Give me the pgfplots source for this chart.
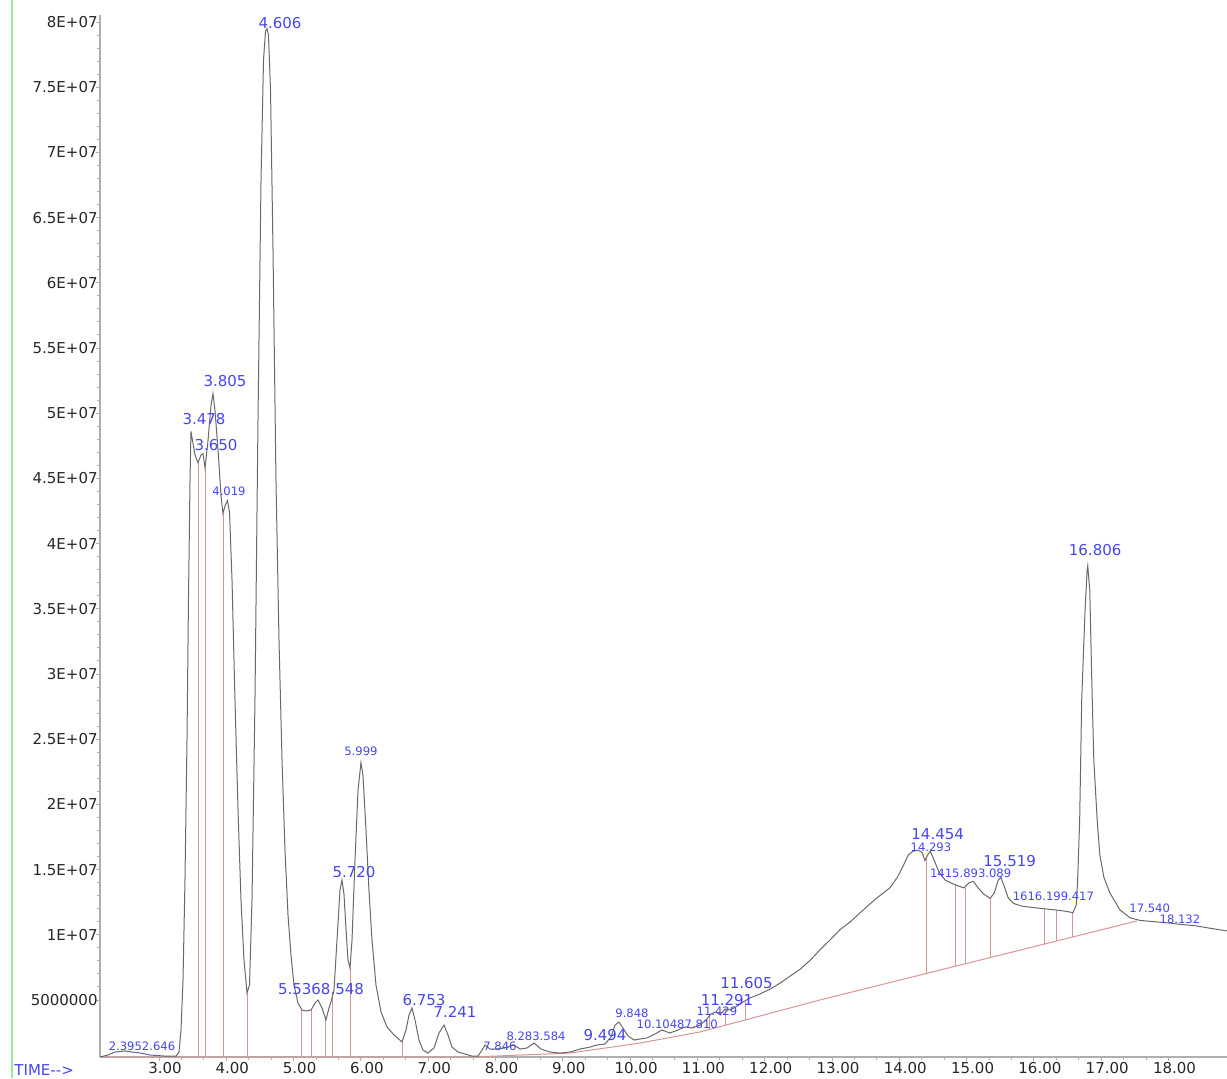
\documentclass[border=0pt]{standalone}
\usepackage{pgfplots}
\usepackage{pgfplotstable}
\pgfplotsset{compat=1.18}
\usepackage{fontspec}
\setmainfont{DejaVu Sans}
\definecolor{pkblue}{RGB}{70,70,240}
\definecolor{intred}{RGB}{215,150,150}
\definecolor{curvegray}{RGB}{105,105,105}
\definecolor{axgray}{RGB}{175,175,175}
\definecolor{lgreen}{RGB}{150,235,150}
\newcommand{\Lf}{\fontsize{7.5}{8}\selectfont}
\newcommand{\Sf}{\fontsize{5.8}{6.5}\selectfont}

\pgfplotstableread{
t I
2.123 0.63
2.242 0.78
2.346 1.01
2.495 1.09
2.599 1.01
2.718 0.94
2.866 0.78
3.089 0.70
3.253 0.70
3.297 1.01
3.327 2.70
3.357 6.53
3.386 14.2
3.416 24.9
3.438 35.7
3.461 44.9
3.475 48.6
3.498 47.9
3.535 46.8
3.580 46.2
3.624 46.8
3.654 46.9
3.684 45.8
3.728 47.9
3.773 50.6
3.802 51.5
3.832 50.2
3.877 47.2
3.921 43.7
3.951 42.3
3.981 42.9
4.018 43.3
4.048 42.4
4.085 37.2
4.129 28.0
4.174 19.6
4.218 12.7
4.263 8.07
4.308 5.54
4.345 6.15
4.382 12.7
4.426 28.0
4.471 49.5
4.516 67.9
4.553 77.1
4.583 79.3
4.605 79.5
4.627 79.0
4.657 74.8
4.694 62.5
4.738 44.9
4.783 32.6
4.828 23.4
4.872 16.5
4.917 11.5
4.961 8.45
5.006 6.15
5.065 4.77
5.125 4.23
5.184 4.16
5.259 4.23
5.318 4.77
5.363 5.00
5.422 4.39
5.481 3.47
5.526 4.39
5.556 4.85
5.600 5.77
5.645 9.60
5.689 13.4
5.719 14.2
5.749 13.1
5.779 10.4
5.808 8.07
5.838 7.45
5.868 9.60
5.912 15.7
5.957 21.1
6.001 23.2
6.031 22.2
6.076 18.0
6.120 13.4
6.165 9.60
6.224 6.15
6.299 4.08
6.388 2.93
6.492 2.32
6.611 1.78
6.670 2.70
6.715 3.85
6.759 4.39
6.804 3.47
6.863 1.93
6.923 1.16
6.997 0.93
7.086 1.32
7.160 2.47
7.235 3.08
7.294 2.32
7.354 1.39
7.443 1.01
7.547 0.86
7.651 0.70
7.740 0.70
7.799 1.16
7.844 1.55
7.918 1.24
8.007 1.24
8.141 1.32
8.275 1.55
8.364 1.24
8.468 1.32
8.572 1.70
8.676 1.24
8.810 1.01
8.958 0.93
9.107 1.01
9.256 1.24
9.404 1.39
9.508 1.55
9.627 1.62
9.716 2.16
9.776 3.08
9.835 3.31
9.894 2.85
9.969 2.24
10.059 1.93
10.147 2.01
10.25 2.09
10.37 2.39
10.47 2.70
10.59 2.47
10.71 2.70
10.82 2.93
10.92 2.85
11.04 3.08
11.13 3.47
11.20 3.93
11.28 4.08
11.34 3.85
11.41 4.31
11.49 4.23
11.59 4.54
11.68 4.85
11.78 5.15
11.93 5.46
12.08 5.84
12.23 6.30
12.38 6.84
12.53 7.37
12.68 8.07
12.82 8.84
12.97 9.60
13.12 10.4
13.27 10.99
13.42 11.7
13.57 12.4
13.71 13.0
13.86 13.6
13.97 14.4
14.05 15.2
14.13 16.1
14.20 16.4
14.28 16.5
14.34 16.3
14.38 15.7
14.43 16.2
14.46 16.4
14.52 15.7
14.59 14.8
14.68 14.2
14.80 13.9
14.90 13.7
14.96 13.6
15.04 14.0
15.10 14.1
15.17 13.6
15.26 13.1
15.35 12.8
15.41 13.2
15.47 14.2
15.51 14.4
15.56 13.7
15.62 12.8
15.70 12.4
15.82 12.2
15.97 12.1
16.15 12.0
16.33 11.9
16.48 11.8
16.58 11.7
16.63 12.3
16.65 14.2
16.68 18.8
16.71 28.0
16.76 34.9
16.79 37.9
16.80 38.3
16.83 36.4
16.86 29.5
16.89 23.4
16.94 18.8
16.98 16.1
17.04 14.4
17.13 13.2
17.28 11.9
17.43 11.3
17.58 11.1
17.80 11.0
18.02 10.9
18.17 10.8
18.39 10.7
18.62 10.5
18.869 10.3
}\chrom

\pgfplotstableread{
t I
2.20 0.63
7.65 0.63
9.107 0.93
10.147 1.70
11.04 2.55
11.71 3.47
12.82 5.00
17.53 11.06
}\baseline

\begin{document}
\begin{tikzpicture}
\begin{axis}[
  scale only axis, width=563.5pt, height=521pt,
  xmin=2.1233, xmax=18.869, ymin=0.629, ymax=80.54,
  axis x line*=bottom, axis y line*=left,
  axis line style={axgray, line width=0.8pt},
  xtick={3,4,...,18},
  xticklabels={3.00,4.00,5.00,6.00,7.00,8.00,9.00,10.00,11.00,12.00,13.00,14.00,15.00,16.00,17.00,18.00},
  minor x tick num=2,
  ytick={5,10,...,80},
  yticklabels={5000000,1E+07,1.5E+07,2E+07,2.5E+07,3E+07,3.5E+07,4E+07,4.5E+07,5E+07,5.5E+07,6E+07,6.5E+07,7E+07,7.5E+07,8E+07},
  minor y tick num=4,
  tick align=outside,
  major tick length=2pt, minor tick length=1.5pt,
  tick style={axgray, line width=0.5pt},
  ticklabel style={font=\Lf, text=black!85},
  xticklabel style={inner sep=0pt, yshift=-0.5pt, xshift=3pt},
  yticklabel style={inner sep=0pt, xshift=1pt},
  clip=false,
]
\addplot[intred, line width=0.5pt] table[x=t, y=I] {\baseline};
% drop lines
\addplot[intred, line width=0.5pt] coordinates {(3.580,0.63) (3.580,46.2)};
\addplot[intred, line width=0.5pt] coordinates {(3.684,0.63) (3.684,45.8)};
\addplot[intred, line width=0.5pt] coordinates {(3.951,0.63) (3.951,42.3)};
\addplot[intred, line width=0.5pt] coordinates {(4.308,0.63) (4.308,5.54)};
\addplot[intred, line width=0.5pt] coordinates {(5.110,0.63) (5.110,4.23)};
\addplot[intred, line width=0.5pt] coordinates {(5.259,0.63) (5.259,4.23)};
\addplot[intred, line width=0.5pt] coordinates {(5.481,0.63) (5.481,3.47)};
\addplot[intred, line width=0.5pt] coordinates {(5.585,0.63) (5.585,5.46)};
\addplot[intred, line width=0.5pt] coordinates {(5.838,0.63) (5.838,7.45)};
\addplot[intred, line width=0.5pt] coordinates {(6.611,0.63) (6.611,1.78)};
\addplot[intred, line width=0.5pt] coordinates {(11.187,2.75) (11.187,3.85)};
\addplot[intred, line width=0.5pt] coordinates {(11.41,3.06) (11.41,4.31)};
\addplot[intred, line width=0.5pt] coordinates {(11.71,3.47) (11.71,4.85)};
\addplot[intred, line width=0.5pt] coordinates {(14.40,7.03) (14.40,15.9)};
\addplot[intred, line width=0.5pt] coordinates {(14.84,7.60) (14.84,13.8)};
\addplot[intred, line width=0.5pt] coordinates {(14.98,7.78) (14.98,13.6)};
\addplot[intred, line width=0.5pt] coordinates {(15.35,8.26) (15.35,12.8)};
\addplot[intred, line width=0.5pt] coordinates {(16.15,9.28) (16.15,12.0)};
\addplot[intred, line width=0.5pt] coordinates {(16.33,9.52) (16.33,11.9)};
\addplot[intred, line width=0.5pt] coordinates {(16.58,9.84) (16.58,11.7)};
% chromatogram
\addplot[curvegray, line width=0.5pt] table[x=t, y=I] {\chrom};
% peak labels
\begin{scope}[every node/.style={text=pkblue, inner sep=0pt, anchor=center}]
\node[font=\Sf] at (axis cs:2.747,1.47) {2.3952.646};
\node[font=\Lf] at (axis cs:3.669,49.55) {3.478};
\node[font=\Lf] at (axis cs:3.981,52.47) {3.805};
\node[font=\Lf] at (axis cs:3.847,47.56) {3.650};
\node[font=\Sf] at (axis cs:4.040,44.03) {4.019};
\node[font=\Lf] at (axis cs:4.798,79.93) {4.606};
\node[font=\Lf] at (axis cs:5.407,5.84) {5.5368.548};
\node[font=\Lf] at (axis cs:5.897,14.82) {5.720};
\node[font=\Sf] at (axis cs:6.001,24.1) {5.999};
\node[font=\Lf] at (axis cs:6.938,5.00) {6.753};
\node[font=\Lf] at (axis cs:7.398,4.08) {7.241};
\node[font=\Sf] at (axis cs:8.067,1.47) {7.846};
\node[font=\Sf] at (axis cs:8.602,2.24) {8.283.584};
\node[font=\Lf] at (axis cs:9.627,2.32) {9.494};
\node[font=\Sf] at (axis cs:10.028,4.0) {9.848};
\node[font=\Sf] at (axis cs:10.70,3.16) {10.10487.810};
\node[font=\Sf] at (axis cs:11.29,4.16) {11.429};
\node[font=\Lf] at (axis cs:11.44,5.00) {11.291};
\node[font=\Lf] at (axis cs:11.73,6.30) {11.605};
\node[font=\Lf] at (axis cs:14.57,17.73) {14.454};
\node[font=\Sf] at (axis cs:14.47,16.73) {14.293};
\node[font=\Sf] at (axis cs:15.06,14.74) {1415.893.089};
\node[font=\Lf] at (axis cs:15.64,15.66) {15.519};
\node[font=\Sf] at (axis cs:16.29,12.98) {1616.199.417};
\node[font=\Lf] at (axis cs:16.91,39.5) {16.806};
\node[font=\Sf] at (axis cs:17.72,12.06) {17.540};
\node[font=\Sf] at (axis cs:18.17,11.21) {18.132};
\end{scope}
\node[text=pkblue, font=\Lf, anchor=west, inner sep=0pt] at (axis description cs:-0.0763,-0.0125) {TIME-{}-{}>};
\draw[lgreen, line width=1pt] (axis description cs:-0.0781,-0.02015) -- (axis description cs:-0.0781,1.0144);
\coordinate (BL) at (axis description cs:-0.08873,-0.02015);
\coordinate (TR) at (axis description cs:1,1.0144);
\end{axis}
\pgfresetboundingbox
\useasboundingbox (BL) rectangle (TR);
\end{tikzpicture}
\end{document}
